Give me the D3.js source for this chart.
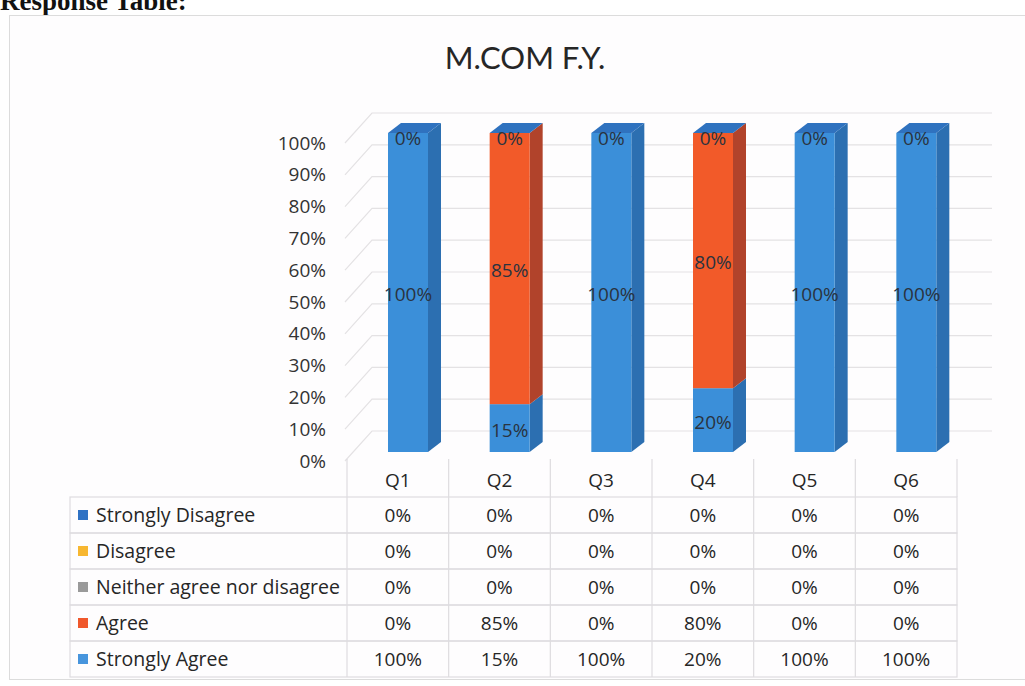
<!DOCTYPE html>
<html>
<head>
<meta charset="utf-8">
<script src="https://cdn.jsdelivr.net/npm/d3@7"></script>
<style>
  html, body { margin: 0; padding: 0; background: #ffffff; }
  svg { display: block; }
</style>
</head>
<body>
<svg id="chart" width="1025" height="686"></svg>
<script>
// ---- data ----
const title = "M.COM F.Y.";
const heading = "Response Table:";
const categories = ["Q1", "Q2", "Q3", "Q4", "Q5", "Q6"];
const seriesNames = ["Strongly Disagree", "Disagree", "Neither agree nor disagree", "Agree", "Strongly Agree"];
const stronglyDisagree = [0, 0, 0, 0, 0, 0];
const disagree = [0, 0, 0, 0, 0, 0];
const neither = [0, 0, 0, 0, 0, 0];
const agree = [0, 0.85, 0, 0.80, 0, 0];
const stronglyAgree = [1, 0.15, 1, 0.20, 1, 1];
const yTicks = [0, 0.1, 0.2, 0.3, 0.4, 0.5, 0.6, 0.7, 0.8, 0.9, 1.0];
const seriesValues = {
  "Strongly Disagree": stronglyDisagree,
  "Disagree": disagree,
  "Neither agree nor disagree": neither,
  "Agree": agree,
  "Strongly Agree": stronglyAgree
};
const frontColors = {
  "Strongly Disagree": "#2f72bf",
  "Disagree": "#f6b531",
  "Neither agree nor disagree": "#9c9c9c",
  "Agree": "#f25a29",
  "Strongly Agree": "#3b8fd9"
};
const sideColors = {
  "Strongly Disagree": "#24599a",
  "Disagree": "#c48f20",
  "Neither agree nor disagree": "#777777",
  "Agree": "#b1432b",
  "Strongly Agree": "#2c6fb1"
};
const legendColors = {
  "Strongly Disagree": "#2f72c4",
  "Disagree": "#f7b731",
  "Neither agree nor disagree": "#9a9a9a",
  "Agree": "#f0582c",
  "Strongly Agree": "#4795dd"
};

const fmt = d3.format(".0%");
const svg = d3.select("#chart");
const FONT = "'Open Sans', Lato, sans-serif";
const TITLEFONT = "Lato, 'Open Sans', sans-serif";

// heading (cut at top of picture, as in the scan)
svg.append("text").attr("x", 0).attr("y", 10)
  .attr("font-family", "'Liberation Serif', 'Times New Roman', serif")
  .attr("font-weight", "bold").attr("font-size", 27).attr("fill", "#111")
  .text(heading);

// chart frame
svg.append("rect").attr("x", 9.5).attr("y", 15.5).attr("width", 1030).attr("height", 664)
  .attr("fill", "#fefdfe").attr("stroke", "#dcdcdc");

// title
svg.append("text").attr("x", 525).attr("y", 69).attr("text-anchor", "middle")
  .attr("font-family", TITLEFONT).attr("font-size", 31).attr("fill", "#262626")
  .text(title);

// scales
const x = d3.scaleBand().domain(categories).range([347, 957]).padding(0);
const yBar = d3.scaleLinear().domain([0, 1]).range([452, 133]);
const yLab = d3.scaleLinear().domain([0, 1]).range([461, 143]);
const depthX = 13, depthY = -10;      // bar 3D depth
const wallX = 27, wallY = -30;        // back wall offset
const barOffset = 41, barW = 40;

// gridlines (side wall + back wall)
const grid = svg.append("g");
yTicks.forEach(t => {
  const y0 = yLab(t);
  grid.append("polyline")
    .attr("points", `345,${y0} ${345 + wallX},${y0 + wallY} 992,${y0 + wallY}`)
    .attr("fill", "none").attr("stroke", "#e4e2e4").attr("stroke-width", 1.2);
});

// y axis labels
const yAxis = d3.axisLeft(yLab).tickValues(yTicks).tickFormat(fmt).tickSize(0).tickPadding(0);
const yg = svg.append("g").attr("transform", "translate(326,0)").call(yAxis);
yg.select(".domain").remove();
yg.selectAll("text").attr("font-family", FONT).attr("font-size", 19).attr("fill", "#333");

// stacking (bottom: Strongly Agree)
const stackKeys = seriesNames.slice().reverse();
const rows = categories.map((c, i) => {
  const r = { cat: c };
  seriesNames.forEach(s => r[s] = seriesValues[s][i]);
  return r;
});
const stacked = d3.stack().keys(stackKeys)(rows);

const bars = svg.append("g");
stacked.forEach(layer => {
  const key = layer.key;
  layer.forEach(seg => {
    const [v0, v1] = seg;
    if (v1 - v0 <= 0) return;
    const bx = x(seg.data.cat) + barOffset;
    const yT = yBar(v1), yB = yBar(v0);
    bars.append("polygon")
      .attr("points", `${bx + barW},${yB} ${bx + barW + depthX},${yB + depthY} ${bx + barW + depthX},${yT + depthY} ${bx + barW},${yT}`)
      .attr("fill", sideColors[key]);
    bars.append("rect").attr("x", bx).attr("y", yT).attr("width", barW).attr("height", yB - yT)
      .attr("fill", frontColors[key]);
  });
});
// top faces (colour of the top series)
const topKey = stackKeys[stackKeys.length - 1];
const topLayer = stacked[stacked.length - 1];
topLayer.forEach(seg => {
  const bx = x(seg.data.cat) + barOffset;
  const yT = yBar(seg[1]);
  bars.append("polygon")
    .attr("points", `${bx},${yT} ${bx + depthX},${yT + depthY} ${bx + barW + depthX},${yT + depthY} ${bx + barW},${yT}`)
    .attr("fill", frontColors[topKey]);
});

// data labels
const labels = svg.append("g").attr("font-family", FONT).attr("font-size", 19)
  .attr("fill", "#2a3340").attr("text-anchor", "middle");
stacked.forEach(layer => {
  layer.forEach(seg => {
    const v = seg[1] - seg[0];
    const isTop = layer.key === topKey;
    if (v <= 0 && !isTop) return;
    const cx = x(seg.data.cat) + barOffset + barW / 2;
    const cy = v > 0 ? yBar((seg[0] + seg[1]) / 2) + 2 : yBar(seg[1]) + 5;
    labels.append("text").attr("x", cx).attr("y", cy).attr("dy", "0.35em").text(fmt(v));
  });
});

// data table
const tLeft = 70, tTop = 497, rowH = 36, headTop = 459;
const tRight = x.range()[1];
const table = svg.append("g");
const lineColor = "#dedcdf";
x.domain().forEach(c => {
  table.append("line").attr("x1", x(c)).attr("x2", x(c)).attr("y1", headTop).attr("y2", tTop)
    .attr("stroke", lineColor).attr("stroke-width", 1.2);
});
table.append("line").attr("x1", tRight).attr("x2", tRight).attr("y1", headTop).attr("y2", tTop)
  .attr("stroke", lineColor).attr("stroke-width", 1.2);
categories.forEach(c => {
  table.append("text").attr("x", x(c) + x.bandwidth() / 2).attr("y", 480).attr("dy", "0.35em")
    .attr("text-anchor", "middle").attr("font-family", FONT).attr("font-size", 19).attr("fill", "#262626")
    .text(c);
});
seriesNames.forEach((s, ri) => {
  const y0 = tTop + ri * rowH;
  table.append("rect").attr("x", tLeft).attr("y", y0).attr("width", tRight - tLeft).attr("height", rowH)
    .attr("fill", "none").attr("stroke", lineColor).attr("stroke-width", 1.2);
  table.append("rect").attr("x", 78).attr("y", y0 + rowH / 2 - 5).attr("width", 10).attr("height", 10)
    .attr("fill", legendColors[s]);
  table.append("text").attr("x", 96).attr("y", y0 + rowH / 2).attr("dy", "0.35em")
    .attr("font-family", FONT).attr("font-size", 19.5).attr("fill", "#262626").text(s);
  categories.forEach((c, ci) => {
    table.append("text").attr("x", x(c) + x.bandwidth() / 2).attr("y", y0 + rowH / 2).attr("dy", "0.35em")
      .attr("text-anchor", "middle").attr("font-family", FONT).attr("font-size", 19).attr("fill", "#262626")
      .text(fmt(seriesValues[s][ci]));
  });
});
categories.forEach(c => {
  table.append("line").attr("x1", x(c)).attr("x2", x(c)).attr("y1", tTop).attr("y2", tTop + rowH * seriesNames.length)
    .attr("stroke", lineColor).attr("stroke-width", 1.2);
});
</script>
</body>
</html>
